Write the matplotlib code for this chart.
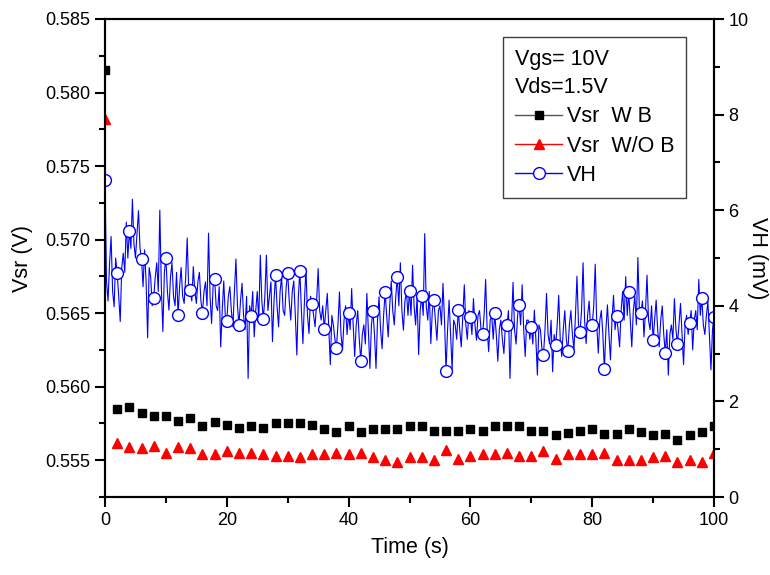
import numpy as np
import matplotlib
matplotlib.use("Agg")
import matplotlib.pyplot as plt
from matplotlib.lines import Line2D
from matplotlib.ticker import MultipleLocator

plt.rcParams['font.family'] = ['Liberation Sans', 'DejaVu Sans']

# --- data ---
t_mark = np.arange(0, 101, 2)          # markers every 2 s
vsr_wb = [0.5815, 0.5585, 0.5586, 0.5582, 0.5580, 0.5580, 0.5577, 0.5579, 0.5573, 0.5576,
          0.5574, 0.5572, 0.5573, 0.5572, 0.5575, 0.5575, 0.5575, 0.5574, 0.5571, 0.5569,
          0.5573, 0.5569, 0.5571, 0.5571, 0.5571, 0.5573, 0.5573, 0.5570, 0.5570, 0.5570,
          0.5571, 0.5570, 0.5573, 0.5573, 0.5573, 0.5570, 0.5570, 0.5567, 0.55685, 0.5570,
          0.5571, 0.5568, 0.5568, 0.5571, 0.5569, 0.5567, 0.5568, 0.5564, 0.5567, 0.5569,
          0.5573]
vsr_wob = [0.5782, 0.5562, 0.5559, 0.5558, 0.5560, 0.5555, 0.5559, 0.5558, 0.5554, 0.5554,
           0.5556, 0.5555, 0.5555, 0.5554, 0.5553, 0.5553, 0.5552, 0.5554, 0.5554, 0.5555,
           0.5554, 0.5555, 0.5552, 0.5550, 0.5549, 0.5552, 0.5552, 0.5550, 0.5557, 0.5551,
           0.5553, 0.5554, 0.5554, 0.5555, 0.5553, 0.5553, 0.5556, 0.5551, 0.5554, 0.5554,
           0.5554, 0.5555, 0.5550, 0.5550, 0.5550, 0.5552, 0.5553, 0.5549, 0.5550, 0.5549,
           0.5555]
# red trace visible along the left spine at t = 0
wob_start_t = [0.0, 0.05]
wob_start_v = [0.5782, 0.5575]

t_vh = np.arange(0, 100.001, 0.25)      # dense VH trace, one row per 2 s
vh = [6.63, 4.5, 4.10, 4.9, 5.45, 4.3, 3.98, 5.0,
      4.68, 4.2, 3.67, 4.8, 5.10, 4.7, 5.75, 5.0,
      5.57, 5.2, 6.23, 5.3, 5.00, 5.5, 5.99, 5.2,
      4.98, 4.4, 5.17, 4.5, 3.33, 4.8, 4.60, 4.0,
      4.17, 4.6, 4.90, 4.3, 6.00, 4.4, 3.46, 4.7,
      5.01, 4.3, 3.91, 4.6, 4.90, 4.2, 4.00, 4.7,
      3.81, 4.4, 4.80, 4.2, 4.05, 4.6, 5.42, 4.3,
      4.33, 4.1, 4.82, 4.3, 4.05, 4.5, 4.70, 4.1,
      3.84, 4.3, 4.50, 4.0, 5.52, 4.2, 3.63, 4.4,
      4.56, 4.0, 3.90, 4.4, 3.14, 3.9, 4.52, 3.8,
      3.68, 4.2, 4.40, 3.9, 3.56, 4.3, 4.98, 4.0,
      3.60, 4.1, 4.47, 3.8, 3.50, 4.2, 2.48, 4.0,
      3.79, 4.3, 3.35, 3.9, 4.30, 3.7, 5.06, 4.1,
      3.72, 4.2, 5.06, 3.9, 4.20, 4.5, 3.25, 4.1,
      4.64, 4.0, 3.56, 4.3, 4.61, 3.9, 3.80, 4.4,
      4.68, 4.1, 3.70, 4.3, 4.52, 3.8, 2.97, 4.2,
      4.73, 3.9, 3.21, 4.1, 4.78, 3.8, 3.42, 4.2,
      4.04, 3.8, 3.56, 4.1, 4.78, 3.9, 3.70, 4.0,
      3.52, 3.9, 4.26, 3.5, 2.77, 3.8, 3.60, 3.3,
      3.12, 3.6, 4.29, 3.4, 3.08, 3.7, 4.00, 3.4,
      3.84, 3.5, 4.36, 3.6, 2.94, 3.6, 3.90, 3.3,
      2.85, 3.4, 3.60, 3.2, 4.26, 3.5, 2.69, 3.6,
      3.89, 3.4, 2.69, 3.7, 4.19, 3.5, 3.10, 3.8,
      4.29, 3.8, 3.35, 4.0, 4.52, 3.9, 3.60, 4.2,
      4.60, 4.0, 4.90, 3.9, 3.49, 4.1, 4.30, 3.8,
      4.32, 3.8, 4.85, 4.0, 3.60, 4.2, 2.98, 3.9,
      4.21, 3.8, 5.51, 4.0, 3.70, 4.3, 3.21, 3.9,
      4.12, 3.7, 3.28, 3.9, 4.00, 3.6, 4.47, 3.7,
      2.64, 3.5, 4.12, 3.4, 2.66, 3.7, 3.60, 3.3,
      3.92, 3.5, 3.14, 3.8, 4.44, 3.6, 3.30, 3.9,
      3.77, 3.4, 4.15, 3.6, 3.28, 3.8, 3.90, 3.5,
      3.40, 3.8, 4.55, 3.5, 3.04, 3.7, 3.80, 3.3,
      3.84, 3.4, 2.84, 3.5, 3.70, 3.3, 3.00, 3.6,
      3.60, 3.9, 2.48, 3.6, 4.49, 3.5, 3.20, 3.8,
      4.01, 3.6, 4.44, 3.5, 2.94, 3.7, 3.70, 3.3,
      3.56, 3.2, 3.91, 3.3, 2.55, 3.6, 3.50, 3.1,
      2.97, 3.5, 4.26, 3.4, 3.20, 3.7, 2.62, 3.4,
      3.17, 3.6, 4.22, 3.3, 2.94, 3.5, 3.90, 3.3,
      3.05, 3.6, 3.90, 3.4, 3.08, 3.8, 4.62, 3.6,
      3.45, 3.9, 4.90, 3.7, 3.21, 3.8, 4.10, 3.5,
      3.60, 4.0, 4.87, 3.6, 3.01, 3.7, 3.90, 3.4,
      2.67, 3.5, 4.02, 3.4, 2.87, 3.7, 4.22, 3.5,
      3.79, 3.5, 3.14, 3.9, 4.30, 3.7, 4.61, 3.8,
      4.28, 3.7, 3.14, 3.9, 4.20, 3.6, 5.01, 3.9,
      3.84, 4.1, 3.35, 3.9, 4.64, 3.7, 3.50, 4.0,
      3.28, 3.7, 4.12, 3.5, 3.14, 3.7, 4.00, 3.4,
      3.01, 3.5, 2.55, 3.4, 3.60, 3.3, 4.15, 3.5,
      3.21, 3.6, 4.05, 3.4, 2.77, 3.6, 3.80, 3.4,
      3.65, 3.9, 3.08, 3.7, 3.90, 3.5, 4.55, 3.8,
      4.17, 3.6, 3.40, 3.8, 4.09, 3.4, 2.66, 3.5,
      3.77]

FS_TICK = 13
FS_LAB = 15.5

fig = plt.figure(figsize=(7.7, 5.75), dpi=100)
ax = fig.add_axes([105 / 770, 78 / 575, 609 / 770, 478 / 575])
ax2 = ax.twinx()

ax.plot(wob_start_t, wob_start_v, color='red', lw=1.0)
ax.plot(t_mark, vsr_wb, ls='none', marker='s', ms=6.2, color='black', mec='black')
ax.plot(t_mark, vsr_wob, ls='none', marker='^', ms=7.5, color='red', mec='red')
ax2.plot(t_vh, vh, color='blue', lw=0.8, marker='o', markevery=8, ms=8.5,
         mfc='white', mec='blue', mew=1.0)

ax.set_xlim(0, 100)
ax.set_ylim(0.5525, 0.585)
ax2.set_ylim(0, 10)

ax.xaxis.set_major_locator(MultipleLocator(20))
ax.xaxis.set_minor_locator(MultipleLocator(10))
ax.yaxis.set_major_locator(MultipleLocator(0.005))
ax.yaxis.set_minor_locator(MultipleLocator(0.0025))
ax.yaxis.set_major_formatter(plt.FormatStrFormatter('%.3f'))
ax2.yaxis.set_major_locator(MultipleLocator(2))
ax2.yaxis.set_minor_locator(MultipleLocator(1))

for a in (ax, ax2):
    for s in a.spines.values():
        s.set_linewidth(1.5)
    a.tick_params(which='major', direction='out', length=7, width=1.5, labelsize=FS_TICK)
    a.tick_params(which='minor', direction='out', length=4, width=1.5)
ax.tick_params(axis='x', which='both', top=False)

ax.set_xlabel('Time (s)', fontsize=FS_LAB, labelpad=6)
ax.set_ylabel('Vsr (V)', fontsize=FS_LAB, labelpad=9)
ax2.set_ylabel('VH (mV)', fontsize=FS_LAB, rotation=270, labelpad=14)

handles = [
    Line2D([], [], color='#555555', lw=1, marker='s', ms=6.2, mfc='black', mec='black'),
    Line2D([], [], color='red', lw=1, marker='^', ms=7.5, mfc='red', mec='red'),
    Line2D([], [], color='blue', lw=1, marker='o', ms=8.5, mfc='white', mec='blue'),
]
labels = ['Vsr  W B', 'Vsr  W/O B', 'VH']
leg = ax2.legend(handles, labels, title='Vgs= 10V\nVds=1.5V', title_fontsize=FS_LAB,
                 fontsize=FS_LAB, loc='upper right', bbox_to_anchor=(0.954, 0.962),
                 alignment='left', frameon=True, fancybox=False, framealpha=1,
                 edgecolor='#404040', handlelength=2.2, handletextpad=0.2,
                 labelspacing=0.38, borderpad=0.55, borderaxespad=0)
leg.get_frame().set_linewidth(1.0)
leg.get_title().set_linespacing(1.45)

fig.savefig('out.png', dpi=100, facecolor='white')
